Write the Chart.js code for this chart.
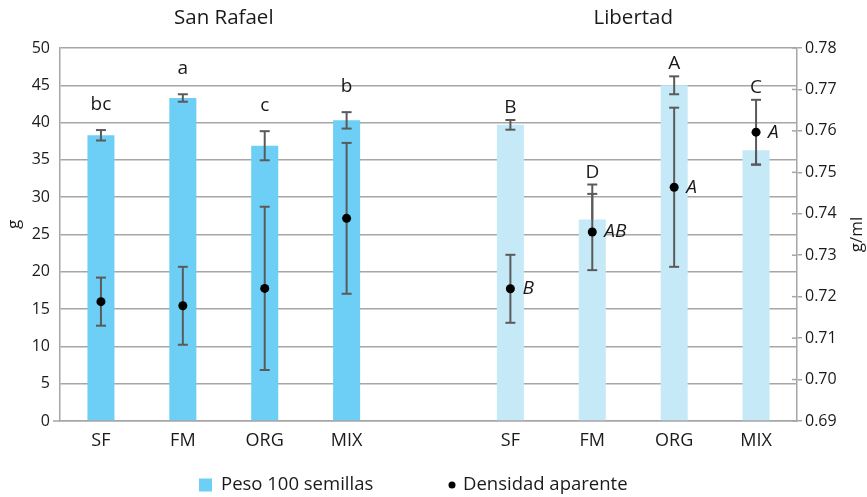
<!DOCTYPE html>
<html><head><meta charset="utf-8">
<script src="https://cdn.jsdelivr.net/npm/chart.js@4/dist/chart.umd.min.js"></script>
<style>html,body{margin:0;padding:0;background:#fff}#wrap{width:867px;height:497px;position:relative}</style>
</head><body><div id="wrap"><canvas id="c"></canvas></div>
<script>
// ---- data ----
const categories = ['SF','FM','ORG','MIX','','SF','FM','ORG','MIX'];
const groupTitles = ['San Rafael','Libertad'];
const groupMembers = [[0,1,2,3],[5,6,7,8]];
const pesoValues   = [38.3, 43.3, 36.9, 40.3, null, 39.7, 27.0, 45.0, 36.3];
const pesoErrPlus  = [0.7, 0.5, 1.95, 1.1, null, 0.65, 4.7, 1.2, 0];
const pesoErrMinus = [0.7, 0.5, 1.95, 1.1, null, 0.65, 0, 1.2, 1.95];
const densValues   = [0.7188, 0.7178, 0.7220, 0.7389, null, 0.7219, 0.7356, 0.7464, 0.7597];
const densErr      = [0.0058, 0.0094, 0.0197, 0.0182, null, 0.0082, 0.0092, 0.0192, 0.0078];
const pesoLetters  = ['bc','a','c','b','','B','D','A','C'];
const densLetters  = ['','','','','','B','AB','A','A'];
const leftAxis  = {min:0, max:50, step:5, title:'g'};
const rightAxis = {min:0.69, max:0.78, step:0.01, title:'g/ml'};
const seriesNames = ['Peso 100 semillas','Densidad aparente'];

// ---- styles ----
const FONT = "'Open Sans', 'Noto Sans', sans-serif";
const TXT = '#1a1a1a';
const GRID = '#a6a6a6';
const ERR = '#5a5a5a';
const SR_COLOR = '#6dcff6';
const LIB_COLOR = '#c6e9f8';
const barColors = categories.map((c,i)=> i<4 ? SR_COLOR : LIB_COLOR);

const errorPlugin = {
  id:'errs',
  beforeDatasetDraw(chart, args){
    if (args.index !== 1) return;
    const {ctx, scales:{x, y, y1}} = chart;
    ctx.save();
    ctx.strokeStyle = ERR; ctx.lineWidth = 2;
    const cap = 5;
    for (let i=0;i<categories.length;i++){
      const px = x.getPixelForValue(i);
      if (pesoValues[i] != null){
        const yt = y.getPixelForValue(pesoValues[i] + pesoErrPlus[i]);
        const yb = y.getPixelForValue(pesoValues[i] - pesoErrMinus[i]);
        ctx.beginPath(); ctx.moveTo(px, yt); ctx.lineTo(px, yb); ctx.stroke();
        if (pesoErrPlus[i] > 0){ ctx.beginPath(); ctx.moveTo(px-cap, yt); ctx.lineTo(px+cap, yt); ctx.stroke(); }
        if (pesoErrMinus[i] > 0){ ctx.beginPath(); ctx.moveTo(px-cap, yb); ctx.lineTo(px+cap, yb); ctx.stroke(); }
      }
      if (densValues[i] != null){
        const yt = y1.getPixelForValue(densValues[i] + densErr[i]);
        const yb = y1.getPixelForValue(densValues[i] - densErr[i]);
        ctx.beginPath(); ctx.moveTo(px, yt); ctx.lineTo(px, yb); ctx.stroke();
        ctx.beginPath(); ctx.moveTo(px-cap, yt); ctx.lineTo(px+cap, yt); ctx.stroke();
        ctx.beginPath(); ctx.moveTo(px-cap, yb); ctx.lineTo(px+cap, yb); ctx.stroke();
      }
    }
    ctx.restore();
  },
  afterDraw(chart){
    const {ctx, scales:{x, y, y1}, chartArea} = chart;
    ctx.save();
    ctx.fillStyle = TXT;
    // group titles
    ctx.font = `20.5px ${FONT}`;
    ctx.textAlign = 'center'; ctx.textBaseline = 'middle';
    groupMembers.forEach((g, k)=>{
      const cx = (x.getPixelForValue(g[0]) + x.getPixelForValue(g[g.length-1]))/2;
      ctx.fillText(groupTitles[k], cx, 18);
    });
    // letters above the highest whisker
    ctx.font = `19px ${FONT}`;
    ctx.textBaseline = 'alphabetic';
    for (let i=0;i<categories.length;i++){
      if (!pesoLetters[i]) continue;
      const px = x.getPixelForValue(i);
      const ytW = y.getPixelForValue(pesoValues[i] + pesoErrPlus[i]);
      const ytD = y1.getPixelForValue(densValues[i] + densErr[i]);
      const yt = Math.min(ytW, ytD);
      ctx.fillText(pesoLetters[i], px, yt - (i<4 ? 20 : 7));
    }
    // italic letters next to points
    ctx.font = `italic 19px ${FONT}`;
    ctx.textAlign = 'left'; ctx.textBaseline = 'middle';
    for (let i=0;i<categories.length;i++){
      if (!densLetters[i]) continue;
      const px = x.getPixelForValue(i);
      const py = y1.getPixelForValue(densValues[i]);
      ctx.fillText(densLetters[i], px + 12, py);
    }
    // inner ticks on right axis
    ctx.strokeStyle = GRID; ctx.lineWidth = 1.5;
    const rx = y1.left;
    y1.ticks.forEach(t=>{
      const py = y1.getPixelForValue(t.value);
      ctx.beginPath(); ctx.moveTo(rx-5, py); ctx.lineTo(rx, py); ctx.stroke();
    });
    // small tick at 0 on left axis
    ctx.beginPath(); ctx.moveTo(chartArea.left-7, chartArea.bottom); ctx.lineTo(chartArea.left, chartArea.bottom); ctx.stroke();
    // axis titles
    ctx.font = `17px ${FONT}`;
    ctx.textAlign = 'center'; ctx.textBaseline = 'middle';
    const cy = (chartArea.top + chartArea.bottom)/2;
    ctx.save(); ctx.translate(14, cy - 10); ctx.rotate(-Math.PI/2); ctx.fillText(leftAxis.title, 0, 0); ctx.restore();
    ctx.save(); ctx.translate(857, cy); ctx.rotate(-Math.PI/2); ctx.fillText(rightAxis.title, 0, 0); ctx.restore();
    // legend
    const ly = 485;
    ctx.font = `18.5px ${FONT}`;
    ctx.textAlign = 'left'; ctx.textBaseline = 'middle';
    ctx.fillStyle = SR_COLOR;
    ctx.fillRect(199, ly-6.5, 13, 13);
    ctx.fillStyle = TXT;
    ctx.fillText(seriesNames[0], 221, ly);
    ctx.fillStyle = '#000';
    ctx.beginPath(); ctx.arc(452, ly, 3.5, 0, Math.PI*2); ctx.fill();
    ctx.fillStyle = TXT;
    ctx.fillText(seriesNames[1], 463, ly);
    ctx.restore();
  }
};

new Chart(document.getElementById('c'), {
  data: {
    labels: categories,
    datasets: [
      { type:'bar', label: seriesNames[0], data: pesoValues, yAxisID:'y',
        backgroundColor: barColors, borderWidth:0,
        categoryPercentage: 1, barPercentage: 0.33, order: 2 },
      { type:'line', label: seriesNames[1], data: densValues, yAxisID:'y1',
        showLine:false, pointRadius:4.5, pointHoverRadius:4.5,
        pointBackgroundColor:'#000', pointBorderColor:'#000', pointBorderWidth:0, order: 1 }
    ]
  },
  options: {
    responsive:true, maintainAspectRatio:false, animation:false,
    layout:{ padding:{ top:48, left:0, right:0, bottom:0 } },
    plugins:{ legend:{display:false}, tooltip:{enabled:false}, title:{display:false} },
    scales:{
      x:{ type:'category', offset:true,
          grid:{ display:false, drawTicks:false },
          border:{ display:true, color:GRID, width:1.5 },
          ticks:{ color:TXT, font:{ family:FONT, size:18 }, padding:9, autoSkip:false, maxRotation:0 },
          afterFit(s){ s.height = 76; } },
      y:{ type:'linear', position:'left', min:leftAxis.min, max:leftAxis.max,
          grid:{ color:GRID, lineWidth:1.5, drawTicks:false },
          border:{ display:true, color:GRID, width:1.5 },
          ticks:{ stepSize:leftAxis.step, color:TXT, font:{ family:FONT, size:16 }, padding:10 },
          afterFit(s){ s.width = 60; } },
      y1:{ type:'linear', position:'right', min:rightAxis.min, max:rightAxis.max,
          grid:{ drawOnChartArea:false, color:GRID, lineWidth:1.5, tickLength:5 },
          border:{ display:true, color:GRID, width:1.5 },
          ticks:{ stepSize:rightAxis.step, color:TXT, font:{ family:FONT, size:16 }, padding:3,
                  callback:(v)=> Number(v).toFixed(2) },
          afterFit(s){ s.width = 70; } }
    }
  },
  plugins:[errorPlugin]
});
</script></body></html>
